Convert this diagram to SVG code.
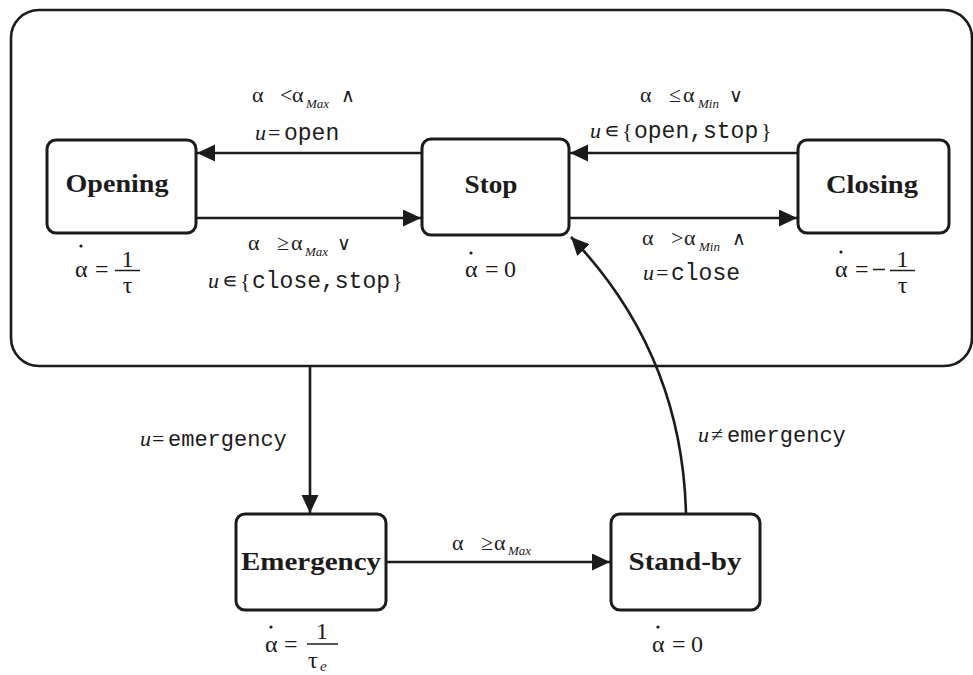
<svg xmlns="http://www.w3.org/2000/svg" width="973" height="675" viewBox="0 0 973 675">
  <style>
    .box { fill: #ffffff; stroke: #1c1a1b; stroke-width: 3; }
    .frame { fill: none; stroke: #1c1a1b; stroke-width: 2.6; }
    .edge { fill: none; stroke: #1c1a1b; stroke-width: 2.6; }
    .state { font-family: "Liberation Serif", "Times New Roman", serif; font-weight: bold; font-size: 26px; fill: #1c1a1b; text-anchor: middle; }
    .lbl { font-family: "Liberation Serif", "DejaVu Serif", serif; font-size: 22px; fill: #1c1a1b; }
    .it { font-style: italic; }
    .sub { font-style: italic; font-size: 13px; }
    .op { font-family: "DejaVu Serif", serif; font-size: 19px; }
    .mono { font-family: "Liberation Mono", "DejaVu Sans Mono", monospace; font-size: 23px; }
    .mono22 { font-family: "Liberation Mono", "DejaVu Sans Mono", monospace; font-size: 22px; }
    .eq { font-family: "Liberation Serif", "DejaVu Serif", serif; font-size: 24px; fill: #1c1a1b; }
    .mid { text-anchor: middle; }
    .bar { stroke: #1c1a1b; stroke-width: 1.5; }
    .dot { fill: #1c1a1b; }
  </style>
  <defs>
    <marker id="arrow" markerUnits="userSpaceOnUse" markerWidth="20" markerHeight="18" refX="18" refY="8.5" orient="auto">
      <path d="M0,0 L18,8.5 L0,17 Z" fill="#1c1a1b"/>
    </marker>
  </defs>

  <!-- outer super-state -->
  <rect id="normal-operation" class="frame" x="11" y="10" width="961" height="356" rx="28" ry="28"/>

  <!-- states -->
  <g id="opening">
    <rect class="box" x="47" y="140" width="149" height="93" rx="9"/>
    <text class="state" x="117" y="192" textLength="103" lengthAdjust="spacingAndGlyphs">Opening</text>
    <g class="eq">
      <text x="75" y="277">α</text>
      <circle class="dot" cx="81" cy="246" r="1.6"/>
      <text x="95" y="277">=</text>
      <line class="bar" x1="115" y1="270.5" x2="140" y2="270.5"/>
      <text class="mid" x="127.5" y="267">1</text>
      <text class="mid" x="127.5" y="293">τ</text>
    </g>
  </g>

  <g id="stop">
    <rect class="box" x="422" y="139" width="147" height="96" rx="9"/>
    <text class="state" x="491" y="193" textLength="53" lengthAdjust="spacingAndGlyphs">Stop</text>
    <g class="eq">
      <text x="465" y="277">α</text>
      <circle class="dot" cx="471" cy="253" r="1.6"/>
      <text x="485" y="277">=</text>
      <text x="504" y="277">0</text>
    </g>
  </g>

  <g id="closing">
    <rect class="box" x="798" y="140" width="151" height="93" rx="9"/>
    <text class="state" x="872" y="193" textLength="92" lengthAdjust="spacingAndGlyphs">Closing</text>
    <g class="eq">
      <text x="835" y="277">α</text>
      <circle class="dot" cx="841" cy="252" r="1.6"/>
      <text x="855" y="277">=</text>
      <line class="bar" x1="873" y1="269.5" x2="885" y2="269.5" stroke-width="2.2"/>
      <line class="bar" x1="890" y1="270.5" x2="915" y2="270.5"/>
      <text class="mid" x="902.5" y="267">1</text>
      <text class="mid" x="902.5" y="293">τ</text>
    </g>
  </g>

  <g id="emergency">
    <rect class="box" x="236" y="514" width="150" height="96" rx="9"/>
    <text class="state" x="311" y="570" textLength="140" lengthAdjust="spacingAndGlyphs">Emergency</text>
    <g class="eq">
      <text x="265" y="652">α</text>
      <circle class="dot" cx="271" cy="627" r="1.6"/>
      <text x="284" y="652">=</text>
      <line class="bar" x1="307" y1="644" x2="338" y2="644"/>
      <text class="mid" x="322" y="639">1</text>
      <text x="308" y="668">τ</text>
      <text class="it" x="320" y="671" font-size="15">e</text>
    </g>
  </g>

  <g id="stand-by">
    <rect class="box" x="611" y="514" width="149" height="96" rx="9"/>
    <text class="state" x="685" y="570" textLength="113" lengthAdjust="spacingAndGlyphs">Stand-by</text>
    <g class="eq">
      <text x="652" y="652">α</text>
      <circle class="dot" cx="658" cy="627" r="1.6"/>
      <text x="672" y="652">=</text>
      <text x="691" y="652">0</text>
    </g>
  </g>

  <!-- transitions -->
  <g id="connectors">
    <path class="edge" d="M422,153 L197,153" marker-end="url(#arrow)"/>
    <path class="edge" d="M196,218 L421,218" marker-end="url(#arrow)"/>
    <path class="edge" d="M798,153 L570,153" marker-end="url(#arrow)"/>
    <path class="edge" d="M569,218 L797,218" marker-end="url(#arrow)"/>
    <path class="edge" d="M310,366 L310,513" marker-end="url(#arrow)"/>
    <path class="edge" d="M386,562 L610,562" marker-end="url(#arrow)"/>
    <path class="edge" d="M686,514 C684,430 660,330 571,237" marker-end="url(#arrow)"/>
  </g>

  <!-- transition guards -->
  <g id="labels">
    <text class="lbl" y="102"><tspan x="252">α</tspan><tspan x="280">&lt;</tspan><tspan x="292">α</tspan><tspan class="sub" x="306" dy="6">Max</tspan><tspan class="op" x="341" dy="-6">∧</tspan></text>
    <text class="lbl" y="140"><tspan class="it" x="255">u</tspan><tspan x="268">=</tspan><tspan class="mono" x="284">open</tspan></text>

    <text class="lbl" y="250"><tspan x="248">α</tspan><tspan x="277">≥</tspan><tspan x="291">α</tspan><tspan class="sub" x="305" dy="6">Max</tspan><tspan class="op" x="337" dy="-6">∨</tspan></text>
    <text class="lbl" y="288"><tspan class="it" x="208">u</tspan><tspan x="222">∊</tspan><tspan x="240">{</tspan><tspan class="mono" x="252">close,stop</tspan><tspan x="392">}</tspan></text>

    <text class="lbl" y="102"><tspan x="640">α</tspan><tspan x="669">≤</tspan><tspan x="683">α</tspan><tspan class="sub" x="698" dy="6">Min</tspan><tspan class="op" x="729" dy="-6">∨</tspan></text>
    <text class="lbl" y="138"><tspan class="it" x="590">u</tspan><tspan x="604">∊</tspan><tspan x="622">{</tspan><tspan class="mono" x="634">open,stop</tspan><tspan x="761">}</tspan></text>

    <text class="lbl" y="245"><tspan x="642">α</tspan><tspan x="671">&gt;</tspan><tspan x="684">α</tspan><tspan class="sub" x="699" dy="6">Min</tspan><tspan class="op" x="732" dy="-6">∧</tspan></text>
    <text class="lbl" y="280"><tspan class="it" x="643">u</tspan><tspan x="656">=</tspan><tspan class="mono" x="671">close</tspan></text>

    <text class="lbl" y="446"><tspan class="it" x="140">u</tspan><tspan x="152">=</tspan><tspan class="mono22" x="168">emergency</tspan></text>
    <text class="lbl" y="442"><tspan class="it" x="698">u</tspan><tspan x="711">≠</tspan><tspan class="mono22" x="727">emergency</tspan></text>

    <text class="lbl" y="550"><tspan x="452">α</tspan><tspan x="481">≥</tspan><tspan x="494">α</tspan><tspan class="sub" x="508" dy="5">Max</tspan></text>
  </g>
</svg>
